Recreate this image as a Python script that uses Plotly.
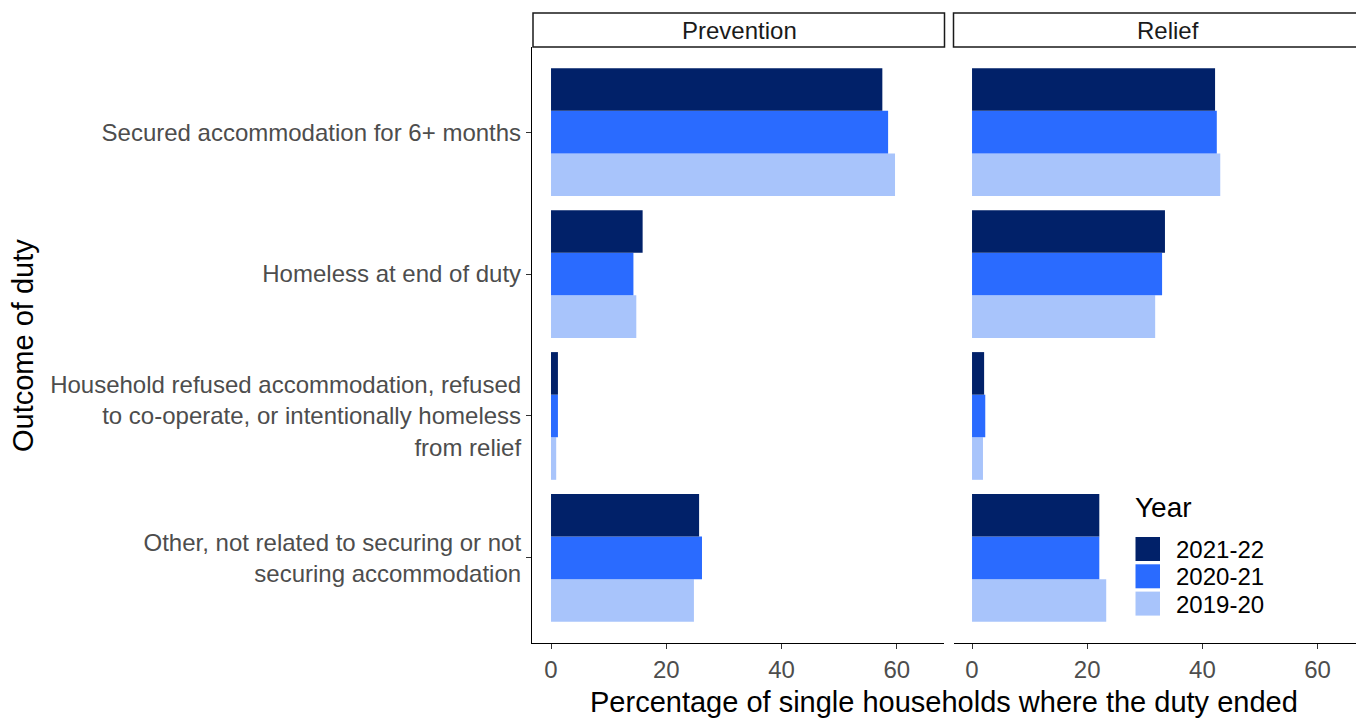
import plotly.graph_objects as go
from plotly.subplots import make_subplots

W, H = 1356, 718

# ---------------- data ----------------
categories = [
    "Secured accommodation for 6+ months",
    "Homeless at end of duty",
    "Household refused accommodation, refused<br>to co-operate, or intentionally homeless<br>from relief",
    "Other, not related to securing or not<br>securing accommodation",
]
years = ["2021-22", "2020-21", "2019-20"]
colors = ["#012169", "#2A6BFF", "#A8C4FB"]
panels = ["Prevention", "Relief"]

prevention_2021_22 = [57.5, 15.9, 1.2, 25.7]
prevention_2020_21 = [58.5, 14.3, 1.2, 26.2]
prevention_2019_20 = [59.7, 14.8, 0.9, 24.8]

relief_2021_22 = [42.2, 33.5, 2.1, 22.1]
relief_2020_21 = [42.5, 33.0, 2.3, 22.1]
relief_2019_20 = [43.1, 31.8, 1.9, 23.3]

x_ticks = [0, 20, 40, 60]
x_title = "Percentage of single households where the duty ended"
y_title = "Outcome of duty"
legend_title = "Year"

panel_values = {
    "Prevention": [prevention_2021_22, prevention_2020_21, prevention_2019_20],
    "Relief": [relief_2021_22, relief_2020_21, relief_2019_20],
}

# ---------------- helpers ----------------
def px_x(p):
    return p / W

def px_y(p):
    return 1 - p / H

FONT = "Liberation Sans, Arial, sans-serif"
TICK_SIZE = 24

fig = make_subplots(rows=1, cols=2, shared_yaxes=True, horizontal_spacing=0.01)

# Plotly stacks grouped horizontal bars bottom-up by trace order, so add the
# oldest year first to have 2021-22 on top of each group.
for col, panel in enumerate(panels, start=1):
    vals = panel_values[panel]
    for i in reversed(range(len(years))):
        fig.add_trace(
            go.Bar(
                x=vals[i],
                y=categories,
                orientation="h",
                name=years[i],
                marker=dict(color=colors[i], line=dict(width=0)),
                showlegend=False,
            ),
            row=1, col=col,
        )

cat_order = list(reversed(categories))  # bottom to top

y_dom = [px_y(643), px_y(47)]
axis_common = dict(
    showgrid=False, zeroline=False,
    showline=True, linecolor="black", linewidth=1.2,
    ticks="outside", ticklen=5, tickcolor="#333333", tickwidth=1.2,
    tickfont=dict(size=TICK_SIZE, color="#4D4D4D", family=FONT),
)
fig.update_layout(
    width=W, height=H,
    margin=dict(l=0, r=0, t=0, b=0),
    autosize=False,
    paper_bgcolor="white",
    plot_bgcolor="white",
    barmode="group",
    bargap=0.1,
    bargroupgap=0,
    font=dict(family=FONT),
    xaxis=dict(domain=[px_x(532), px_x(944)], range=[-3.3, 68.2],
               tickvals=x_ticks, **axis_common),
    xaxis2=dict(domain=[px_x(954), 1.0], range=[-3.13, 66.67],
                tickvals=x_ticks, **axis_common),
    yaxis=dict(domain=y_dom, categoryorder="array", categoryarray=cat_order,
               range=[-0.6, 3.6], ticklabelstandoff=0, **axis_common),
    yaxis2=dict(
        domain=y_dom,
        categoryorder="array", categoryarray=cat_order,
        range=[-0.6, 3.6],
        showgrid=False, zeroline=False, showline=False,
        showticklabels=False, ticks="",
    ),
)

shapes = []
annotations = []

# facet strips
strip_boxes = [(533, 944.5), (953.5, 1360)]
strip_centers = [739, 1168]
for panel, (x0, x1), cx in zip(panels, strip_boxes, strip_centers):
    shapes.append(dict(
        type="rect", xref="paper", yref="paper",
        x0=px_x(x0), x1=px_x(x1), y0=px_y(47), y1=px_y(13),
        line=dict(color="#1A1A1A", width=1.5), fillcolor="white", layer="above",
    ))
    annotations.append(dict(
        text=panel, xref="paper", yref="paper",
        x=px_x(cx), y=px_y(30), xanchor="center", yanchor="middle", showarrow=False,
        font=dict(size=TICK_SIZE, color="#1A1A1A", family=FONT),
    ))

# axis titles
annotations.append(dict(
    text=x_title, xref="paper", yref="paper",
    x=px_x(944), y=px_y(702), xanchor="center", yanchor="middle",
    showarrow=False, font=dict(size=29, color="black", family=FONT),
))
annotations.append(dict(
    text=y_title, xref="paper", yref="paper",
    x=px_x(23), y=px_y(346), xanchor="center", yanchor="middle",
    textangle=-90, showarrow=False, font=dict(size=29, color="black", family=FONT),
))

# legend
annotations.append(dict(
    text=legend_title, xref="paper", yref="paper",
    x=px_x(1133), y=px_y(507), xanchor="left", yanchor="middle",
    showarrow=False, font=dict(size=28, color="black", family=FONT),
))
key_top = 537
key_h = 24
key_step = 27.3
for i, (yr, c) in enumerate(zip(years, colors)):
    t = key_top + i * key_step
    shapes.append(dict(
        type="rect", xref="paper", yref="paper",
        x0=px_x(1135.5), x1=px_x(1160), y0=px_y(t + key_h), y1=px_y(t),
        line=dict(width=0), fillcolor=c,
    ))
    annotations.append(dict(
        text=yr, xref="paper", yref="paper",
        x=px_x(1174), y=px_y(t + key_h / 2 + 0.5), xanchor="left", yanchor="middle",
        showarrow=False, font=dict(size=TICK_SIZE, color="black", family=FONT),
    ))

fig.update_layout(shapes=shapes, annotations=annotations)

fig.write_html(
    "out.html",
    config={"displayModeBar": False},
    post_script="document.body.style.margin='0';document.body.style.padding='0';"
                "document.body.style.overflow='hidden';",
)
